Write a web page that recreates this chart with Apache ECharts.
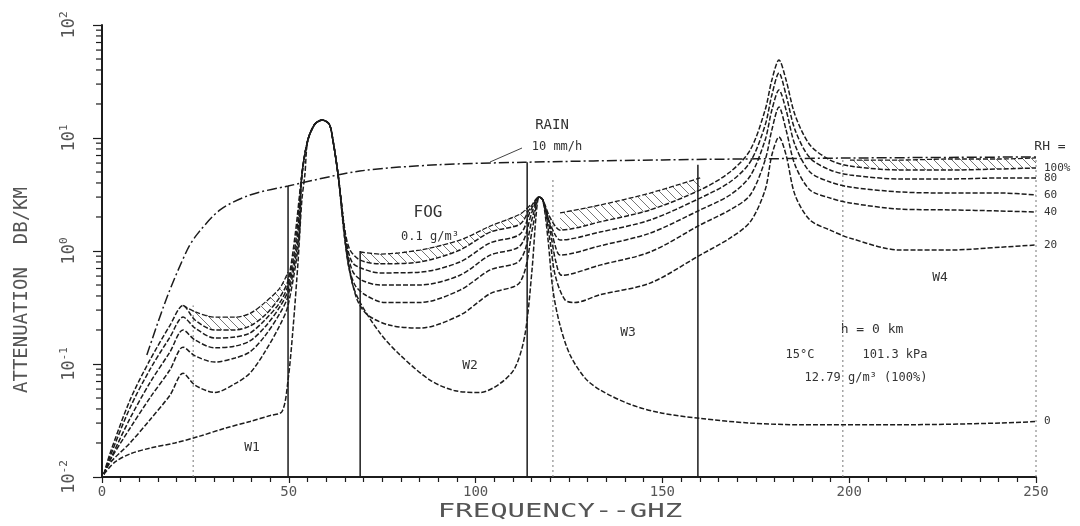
<!DOCTYPE html>
<html>
<head>
<meta charset="utf-8">
<script src="https://cdn.jsdelivr.net/npm/echarts@6/dist/echarts.min.js"></script>
<style>
  html, body { margin: 0; background: #fff; }
  #chart { width: 1080px; height: 526px; }
</style>
</head>
<body>
<div id="chart"></div>
<script>
// attenuation curves, [GHz, dB/km]
const rh100 = [[0.5,0.0106],[2.1,0.016],[7.5,0.048],[12.8,0.108],[18.2,0.22],[21.7,0.33],[24.9,0.245],[30.2,0.20],[35.6,0.20],[39.6,0.217],[43.6,0.27],[47.6,0.39],[49.8,0.55],[51.7,1.39],[53.5,4.71],[55.1,9.6],[57.0,13.3],[58.9,14.4],[60.8,13.3],[61.8,9.6],[63.2,4.71],[65.0,1.53],[66.4,1.02],[69.1,0.83],[74.4,0.77],[85.1,0.80],[95.8,1.02],[103.9,1.47],[111.9,1.73],[114.6,2.40],[117.0,3.01],[118.0,2.83],[119.6,2.08],[121.3,1.66],[122.6,1.53],[133.3,1.81],[146.7,2.31],[160.1,3.47],[168.1,5.00],[173.5,7.83],[177.5,17.7],[179.3,32.6],[181.2,49.0],[183.1,32.6],[185.5,16.0],[189.5,8.67],[194.9,6.38],[200.2,5.65],[213.6,5.21],[227.0,5.21],[240.4,5.32],[250,5.43]];
const rh80 = [[0.5,0.0106],[2.1,0.015],[7.5,0.041],[12.8,0.089],[18.2,0.173],[21.7,0.26],[24.9,0.208],[30.2,0.170],[35.6,0.173],[39.6,0.188],[43.6,0.245],[47.6,0.35],[49.8,0.50],[51.9,1.25],[53.5,4.71],[55.1,9.6],[57.0,13.3],[58.9,14.4],[60.8,13.3],[61.8,9.6],[63.2,4.71],[65.3,1.25],[66.9,0.80],[69.1,0.71],[74.4,0.64],[85.1,0.65],[95.8,0.80],[103.9,1.18],[111.9,1.41],[114.8,2.31],[117.0,3.01],[118.0,2.83],[119.6,1.88],[121.3,1.39],[122.6,1.25],[133.3,1.47],[146.7,1.88],[160.1,2.94],[168.1,4.08],[173.5,6.13],[177.5,13.0],[179.3,24.0],[181.2,37.6],[183.1,24.0],[185.5,11.8],[189.5,6.66],[194.9,5.21],[200.2,4.71],[213.6,4.34],[227.0,4.34],[240.4,4.43],[250,4.43]];
const rh60 = [[0.5,0.0106],[2.1,0.014],[7.5,0.033],[12.8,0.068],[18.2,0.128],[21.7,0.20],[24.9,0.163],[30.2,0.139],[35.6,0.144],[39.6,0.160],[43.6,0.212],[47.6,0.32],[49.8,0.45],[52.2,1.25],[53.5,4.71],[55.1,9.6],[57.0,13.3],[58.9,14.4],[60.8,13.3],[61.8,9.6],[63.2,4.71],[65.6,1.02],[67.2,0.65],[69.6,0.55],[74.4,0.50],[85.1,0.50],[95.8,0.61],[103.9,0.92],[111.9,1.11],[115.1,2.21],[117.0,3.01],[118.0,2.83],[119.9,1.70],[121.5,1.06],[122.6,0.92],[133.3,1.11],[146.7,1.44],[160.1,2.31],[168.1,3.13],[173.5,4.61],[177.5,9.6],[179.3,17.7],[181.2,26.6],[183.1,17.7],[185.5,8.67],[189.5,5.00],[194.9,4.08],[200.2,3.68],[213.6,3.33],[227.0,3.26],[240.4,3.26],[250,3.13]];
const rh40 = [[0.5,0.0106],[2.1,0.014],[7.5,0.027],[12.8,0.050],[18.2,0.089],[21.7,0.141],[24.9,0.118],[30.2,0.104],[35.6,0.113],[39.6,0.128],[43.6,0.177],[47.6,0.28],[49.8,0.40],[52.5,1.25],[53.5,4.71],[55.1,9.6],[57.0,13.3],[58.9,14.4],[60.8,13.3],[61.8,9.6],[63.2,4.71],[65.8,0.80],[67.7,0.50],[70.4,0.41],[75.7,0.35],[85.1,0.35],[95.8,0.45],[103.9,0.68],[111.9,0.83],[115.4,2.08],[117.0,3.01],[118.0,2.83],[119.9,1.53],[121.5,0.80],[123.1,0.61],[133.3,0.75],[146.7,0.98],[160.1,1.70],[168.1,2.31],[173.5,3.13],[177.5,6.38],[179.3,11.8],[181.2,18.8],[183.1,11.8],[185.5,5.77],[189.5,3.47],[194.9,2.94],[200.2,2.66],[213.6,2.35],[227.0,2.31],[240.4,2.26],[250,2.21]];
const rh20 = [[0.5,0.0106],[2.1,0.0133],[7.5,0.020],[12.8,0.032],[18.2,0.053],[21.7,0.083],[24.9,0.065],[30.2,0.056],[35.6,0.067],[39.6,0.083],[43.6,0.128],[47.6,0.22],[49.8,0.33],[52.7,1.25],[53.5,4.71],[55.1,9.6],[57.0,13.3],[58.9,14.4],[60.8,13.3],[61.8,9.6],[63.2,4.71],[66.1,0.75],[68.3,0.37],[71.2,0.27],[77.1,0.22],[85.1,0.208],[95.8,0.27],[103.9,0.42],[111.9,0.53],[115.4,1.70],[117.0,3.01],[118.0,2.83],[119.9,1.25],[121.3,0.61],[123.9,0.37],[126.6,0.35],[133.3,0.41],[146.7,0.52],[160.1,0.92],[168.1,1.30],[173.5,1.81],[177.5,3.47],[179.3,7.08],[181.2,10.2],[183.1,7.08],[185.5,3.13],[189.5,1.88],[194.9,1.53],[200.2,1.30],[213.6,1.02],[227.0,1.02],[240.4,1.08],[250,1.13]];
const rh0 = [[0.5,0.0106],[3.5,0.0136],[7.5,0.016],[12.8,0.018],[19.5,0.020],[26.2,0.023],[32.9,0.027],[39.6,0.031],[45.0,0.035],[48.2,0.038],[49.8,0.072],[51.1,0.20],[52.5,0.83],[53.5,2.83],[54.3,4.71],[55.1,9.6],[57.0,13.3],[58.9,14.4],[60.8,13.3],[61.8,9.6],[63.2,4.71],[65.0,1.25],[66.9,0.53],[69.1,0.35],[74.4,0.188],[79.8,0.120],[87.8,0.072],[94.5,0.058],[101.2,0.056],[106.5,0.067],[110.5,0.092],[113.2,0.181],[115.1,0.68],[116.2,2.08],[117.0,3.01],[118.0,2.83],[119.4,1.25],[120.7,0.45],[122.6,0.22],[125.3,0.120],[129.3,0.075],[133.3,0.059],[141.3,0.044],[149.4,0.037],[160.1,0.033],[173.5,0.030],[186.8,0.029],[213.6,0.029],[240.4,0.030],[250,0.031]];

// fog 0.1 g/m3 on top of RH 100%, in the windows
const fogW1 = [[21.7,0.33],[24.9,0.29],[30.2,0.26],[35.6,0.26],[39.6,0.28],[43.6,0.35],[47.6,0.47],[49.8,0.65]];
const fogW2 = [[69.1,0.98],[74.4,0.94],[85.1,1.02],[95.8,1.25],[103.9,1.66],[111.9,2.12],[114.6,2.55]];
const fogW3 = [[122.6,2.17],[133.3,2.55],[146.7,3.26],[160.1,4.43]];
const fogW4 = [[200.2,6.38],[213.6,6.38],[227.0,6.52],[240.4,6.52],[250,6.66]];

// rain 10 mm/h
const rain = [[12,0.12],[17.4,0.39],[22.8,1.02],[25.5,1.41],[31.6,2.31],[39.6,3.13],[49.8,3.76],[69,5.1],[90,5.8],[113,6.1],[150,6.4],[200,6.65],[250,6.8]];

// window boundaries
const winFreq = [24.4, 49.8, 69.1, 113.8, 120.7, 159.5, 198.3, 250];
const winTop = [0.33, 3.76, 1.0, 6.1, 4.25, 5.8, 6.65, 6.8];
const winDotted = [true, false, false, false, true, false, true, true];

const rhNames = ['100%', '80', '60', '40', '20', '0'];
const rhCurves = [rh100, rh80, rh60, rh40, rh20, rh0];
const fogWindows = [fogW1, fogW2, fogW3, fogW4];
const yDecades = [0.01, 0.1, 1, 10, 100];

const MONO = 'DejaVu Sans Mono';
const INK = '#1c1c1c';

// diagonal hatch for the fog band
const hatch = document.createElement('canvas');
hatch.width = 9; hatch.height = 9;
const hctx = hatch.getContext('2d');
hctx.strokeStyle = '#777';
hctx.lineWidth = 1;
hctx.beginPath(); hctx.moveTo(0, 0); hctx.lineTo(9, 9); hctx.stroke();

const minorTicks = [];
yDecades.slice(0, -1).forEach(d => { for (let k = 2; k <= 9; k++) minorTicks.push([0, d * k]); });

const series = [];

rhCurves.forEach((c, i) => {
  series.push({
    type: 'line', name: 'RH ' + rhNames[i], data: c,
    symbol: 'none', smooth: 0.3, z: 3,
    lineStyle: { color: INK, width: 1.5, type: [5, 2] },
    endLabel: {
      show: true, formatter: rhNames[i], distance: 8,
      color: '#333', fontFamily: MONO, fontSize: 11
    }
  });
});

fogWindows.forEach(w => {
  series.push({
    type: 'line', data: w, symbol: 'none', smooth: 0.3, z: 3,
    lineStyle: { color: INK, width: 1.3, type: [5, 2] }
  });
});

// hatched area between fog and RH 100%
series.push({
  type: 'custom', silent: true, z: 2,
  data: fogWindows.map((w, i) => [i, 1]),
  renderItem: (params, api) => {
    const w = fogWindows[params.dataIndex];
    const top = w.map(p => api.coord(p));
    const bot = w.slice().reverse().map(p => api.coord([p[0], rh100.find(q => q[0] === p[0])[1]]));
    return {
      type: 'polygon',
      shape: { points: top.concat(bot) },
      style: { fill: { image: hatch, repeat: 'repeat' }, stroke: null }
    };
  }
});

series.push({
  type: 'line', data: rain, symbol: 'none', smooth: 0.3, z: 3,
  lineStyle: { color: INK, width: 1.5, type: [10, 3, 2, 3] }
});

winFreq.forEach((f, i) => {
  series.push({
    type: 'line', data: [[f, 0.01], [f, winTop[i]]], symbol: 'none', z: 2,
    lineStyle: { color: winDotted[i] ? '#777' : INK, width: winDotted[i] ? 1 : 1.5, type: winDotted[i] ? [2, 3] : 'solid' }
  });
});

// log minor ticks on the y axis
series.push({
  type: 'custom', silent: true, z: 5,
  data: minorTicks,
  renderItem: (params, api) => {
    const p = api.coord([0, api.value(1)]);
    return {
      type: 'line',
      shape: { x1: p[0] - 6, y1: p[1], x2: p[0], y2: p[1] },
      style: { stroke: INK, lineWidth: 1.2 }
    };
  }
});

const txt = (x, y, text, size, extra) => Object.assign({
  type: 'text', x, y, silent: true,
  style: { text, fill: '#333', font: size + 'px "' + MONO + '"', textAlign: 'center', textVerticalAlign: 'middle' }
}, extra || {});

const chart = echarts.init(document.getElementById('chart'));
chart.setOption({
  animation: false,
  backgroundColor: '#fff',
  grid: { left: 102, right: 44, top: 25, bottom: 49 },
  xAxis: {
    type: 'value', min: 0, max: 250, interval: 50,
    axisLine: { lineStyle: { color: INK, width: 2 } },
    axisTick: { length: 6, lineStyle: { color: INK, width: 1.2 } },
    minorTick: { show: true, splitNumber: 10, length: 5, lineStyle: { color: INK, width: 1.2 } },
    axisLabel: { color: '#555', fontFamily: MONO, fontSize: 14, margin: 8 },
    splitLine: { show: false }
  },
  yAxis: {
    type: 'log', min: 0.01, max: 100, logBase: 10,
    axisLine: { show: true, lineStyle: { color: INK, width: 2 } },
    axisTick: { show: true, length: 9, lineStyle: { color: INK, width: 1.2 } },
    axisLabel: {
      rotate: 90, margin: 22, color: '#555', fontFamily: MONO, fontSize: 17,
      formatter: v => '10{s|' + Math.round(Math.log10(v)) + '}',
      rich: { s: { fontSize: 11, fontFamily: MONO, color: '#555', padding: [0, 0, 10, 0] } }
    },
    splitLine: { show: false }
  },
  series,
  graphic: [
    txt(22, 290, 'ATTENUATION  DB/KM', 19, { rotation: Math.PI / 2, style: { text: 'ATTENUATION  DB/KM', fill: '#555', font: '19px "' + MONO + '"', textAlign: 'center', textVerticalAlign: 'middle' } }),
    txt(560, 512, 'FREQUENCY--GHZ', 20, { scaleX: 1.45, style: { text: 'FREQUENCY--GHZ', fill: '#555', font: '20px "' + MONO + '"', textAlign: 'center', textVerticalAlign: 'middle' } }),
    txt(552, 125, 'RAIN', 14),
    txt(557, 147, '10 mm/h', 12),
    { type: 'line', silent: true, shape: { x1: 490, y1: 162, x2: 522, y2: 148 }, style: { stroke: '#444', lineWidth: 1 } },
    txt(428, 213, 'FOG', 16),
    txt(430, 237, '0.1 g/m³', 12),
    txt(252, 448, 'W1', 13),
    txt(470, 366, 'W2', 13),
    txt(628, 333, 'W3', 13),
    txt(940, 278, 'W4', 13),
    txt(872, 330, 'h = 0 km', 13),
    txt(800, 355, '15°C', 12),
    txt(895, 355, '101.3 kPa', 12),
    txt(866, 378, '12.79 g/m³ (100%)', 12),
    txt(1050, 147, 'RH =', 13)
  ]
});
</script>
</body>
</html>
